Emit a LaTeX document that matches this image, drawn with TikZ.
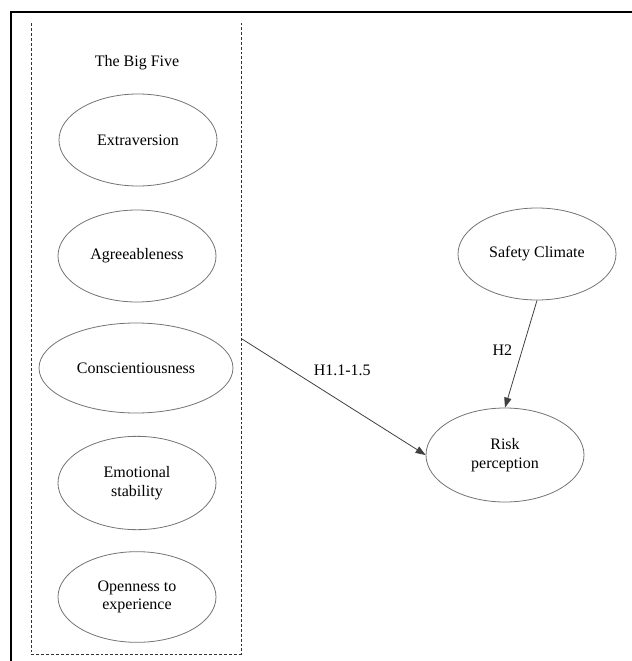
\documentclass[tikz,border=0pt]{standalone}
\usepackage{fontspec}
\setmainfont{Liberation Serif}
\usetikzlibrary{shapes, arrows.meta, positioning, calc}

\begin{document}
\begin{tikzpicture}[
		x=0.75pt, y=-0.75pt,
		% --- ESTILOS ---
		trait/.style = {draw=black!55, line width=0.6pt, ellipse, minimum width=118.5pt, minimum height=69pt, inner sep=0pt, align=center, font=\fontsize{12}{13.8}\selectfont},
		hyp/.style = {font=\fontsize{12}{14}\selectfont},
		link/.style = {draw=black!75, line width=0.6pt, -{Triangle[length=7.5pt, width=5.5pt]}},
		>={Triangle[length=7.5pt, width=5.5pt]}
		]
		
		\useasboundingbox (0,0) rectangle (632,661);
		
		% --- MARCO ---
		\draw [line width=1.5pt] (11,661) -- (11,12) -- (632,12);
		
		% --- CAJA THE BIG FIVE ---
		\draw [dash pattern=on 2.2pt off 1.5pt, black!80, line width=0.5pt] (31,23) -- (31,654) -- (241,654) -- (241,23);
		\node [hyp] (title) at (137,63) {The Big Five};
		
		% Rasgos
		\node [trait] (extra) at (138,140) {Extraversion};
		\node [trait] (agree) at (137,256) {Agreeableness};
		\node [trait, minimum width=145.5pt, minimum height=67.5pt] (consc) at (136,368) {Conscientiousness};
		\node [trait, minimum height=70pt] (emot) at (137,483) {Emotional\\stability};
		\node [trait, minimum height=68pt] (open) at (137,597) {Openness to\\experience};
		
		% --- LADO DERECHO ---
		\node [trait] (safety) at (537,254) {Safety Climate};
		\node [trait, minimum height=70.5pt] (risk) at (505,455) {Risk\\perception};
		
		% --- CONEXIONES ---
		\coordinate (h1src) at (242,339);
		\draw [link] (h1src) -- node[hyp, pos=0.546, yshift=24pt] {H1.1-1.5} (risk.west);
		\draw [link] (safety.south) -- node[hyp, pos=0.46, xshift=-15pt] {H2} (risk.north);
		
	\end{tikzpicture}
\end{document}
